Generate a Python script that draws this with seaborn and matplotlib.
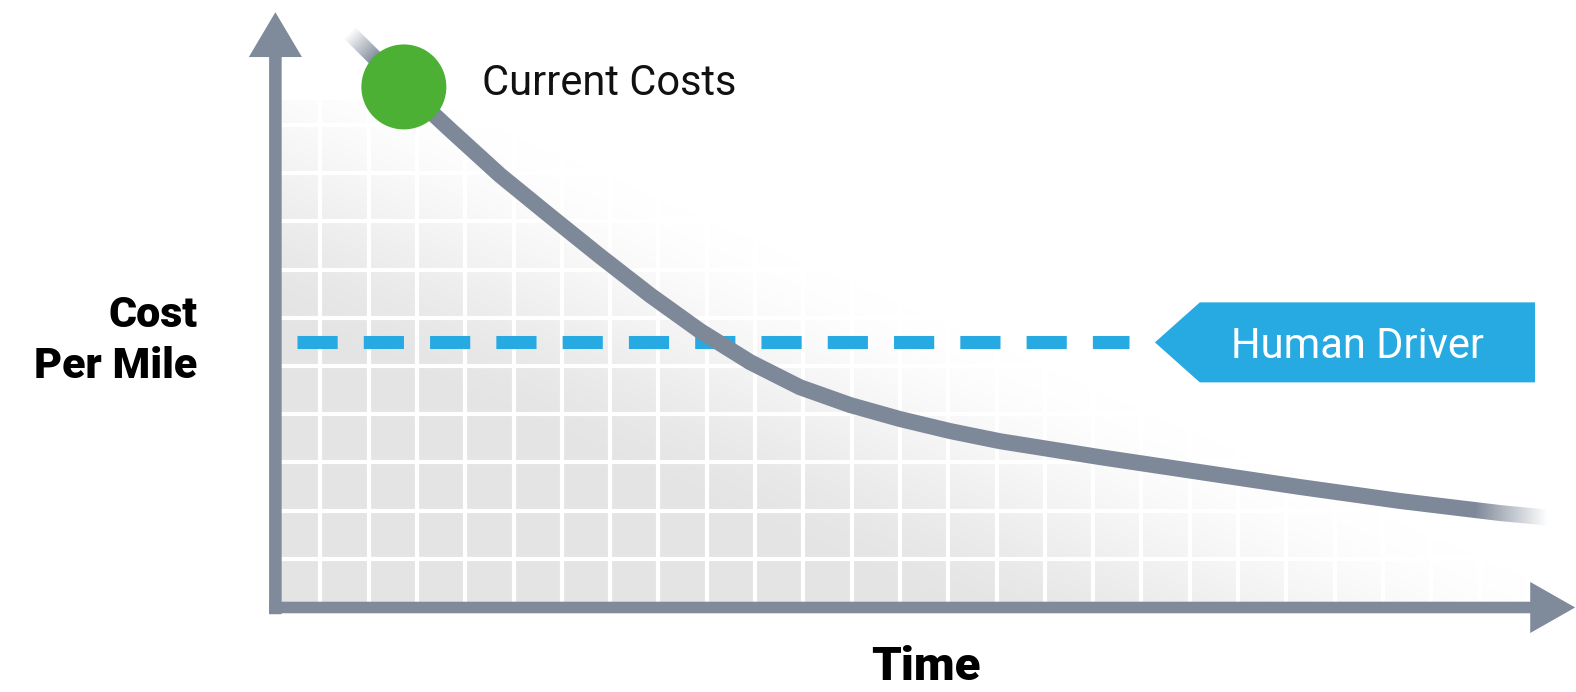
import numpy as np
import matplotlib
matplotlib.use("Agg")
import matplotlib.pyplot as plt
import seaborn as sns
from matplotlib.patches import Polygon

# ---------------- data (grid units) ----------------
time = [1.61, 2.65, 3.69, 4.72, 5.76, 6.79, 7.83, 8.86, 9.90, 10.93, 11.97,
        13.00, 14.04, 15.07, 17.14, 19.21, 21.28, 23.35, 25.42, 26.46]
cost = [11.91, 10.87, 9.90, 8.96, 8.11, 7.28, 6.47, 5.73, 5.08, 4.56, 4.19,
        3.90, 3.65, 3.44, 3.11, 2.80, 2.49, 2.20, 1.95, 1.85]

current_time = [2.73]
current_cost = [10.79]

human_cost = 5.49
human_start, human_end = 0.52, 17.74

labels = {"current": "Current Costs", "human": "Human Driver",
          "y1": "Cost", "y2": "Per Mile", "x": "Time"}

# ---------------- style ----------------
sns.set_theme(style="white")
plt.rcParams["font.family"] = ["Roboto", "DejaVu Sans"]

AXIS_C = "#7f8a9a"
CURVE_C = "#7d8898"
GREEN = "#4cb034"
BLUE = "#27a9e1"

fig = plt.figure(figsize=(15.76, 6.92), dpi=100)
ax = fig.add_axes([0, 0, 1, 1])
sx, sy = 48.3, 48.2
ax.set_xlim(-272 / sx, (1576 - 272) / sx)
ax.set_ylim(-(692 - 607) / sy, 607 / sy)
ax.axis("off")

# ---------------- fading grid background ----------------
gx0, gx1, gy0, gy1 = 0.08, 27.0, -0.02, 10.5
xx, yy = np.meshgrid(np.linspace(gx0, gx1, 600), np.linspace(gy0, gy1, 300))
s = xx / 25.8 + yy / 11.3
g = np.clip((1.08 - s) / 0.58, 0, 1)
g = g * g * (3 - 2 * g)
rgba = np.zeros(xx.shape + (4,))
rgba[..., :3] = 0.895
rgba[..., 3] = g
ax.imshow(rgba, extent=(gx0, gx1, gy0, gy1), origin="lower", aspect="auto",
          interpolation="bilinear", zorder=1)
for k in range(1, 27):
    ax.plot([k, k], [gy0, gy1], color="white", lw=3, zorder=2, solid_capstyle="butt")
for k in range(1, 11):
    ax.plot([gx0, gx1], [k, k], color="white", lw=3, zorder=2, solid_capstyle="butt")

# ---------------- human driver dashed level ----------------
ax.plot([human_start, human_end], [human_cost, human_cost], color=BLUE,
        lw=9.4, linestyle=(0, (40 / 13, 26 / 13)), dash_capstyle="butt", zorder=3)

# ---------------- cost curve ----------------
sns.lineplot(x=time, y=cost, color=CURVE_C, linewidth=11.5, ax=ax, zorder=4,
             solid_capstyle="butt", solid_joinstyle="round", sort=False)

# fade curve ends with white gradient overlays
fx0, fx1, fy0, fy1 = 1.0, 2.8, 10.6, 12.7
xx, yy = np.meshgrid(np.linspace(fx0, fx1, 120), np.linspace(fy0, fy1, 120))
t = ((xx - time[0]) - (yy - cost[0])) / np.sqrt(2)
a = np.clip(1 - t / 0.8, 0, 1)
ov = np.ones(xx.shape + (4,))
ov[..., 3] = a
ax.imshow(ov, extent=(fx0, fx1, fy0, fy1), origin="lower", aspect="auto",
          interpolation="bilinear", zorder=5)

rx0, rx1, ry0, ry1 = 24.5, 27.6, 1.25, 2.6
xx, yy = np.meshgrid(np.linspace(rx0, rx1, 200), np.linspace(ry0, ry1, 40))
a = np.clip((xx - 24.9) / (26.4 - 24.9), 0, 1)
ov = np.ones(xx.shape + (4,))
ov[..., 3] = a
ax.imshow(ov, extent=(rx0, rx1, ry0, ry1), origin="lower", aspect="auto",
          interpolation="bilinear", zorder=5)

# ---------------- current cost dot ----------------
sns.scatterplot(x=current_time, y=current_cost, s=3745, color=GREEN,
                edgecolor="none", ax=ax, zorder=6, legend=False)
ax.text(current_time[0] + 1.62, current_cost[0] - 0.17, labels["current"],
        fontsize=30, color="#111111", ha="left", va="baseline", zorder=7)

# ---------------- axes arrows ----------------
ax.arrow(0.07, -0.15, 0, 12.34 + 0.15, width=0.26, head_width=1.1, head_length=0.93,
         length_includes_head=True, color=AXIS_C, lw=0, zorder=8)
ax.arrow(-0.06, -0.01, 26.98 + 0.06, 0, width=0.24, head_width=1.06, head_length=0.93,
         length_includes_head=True, color=AXIS_C, lw=0, zorder=8)

# ---------------- human driver label box ----------------
tip_x, left_x, right_x, hh = 18.28, 19.21, 26.15, 0.83
poly = Polygon([[tip_x, human_cost], [left_x, human_cost + hh], [right_x, human_cost + hh],
                [right_x, human_cost - hh], [left_x, human_cost - hh]],
               closed=True, facecolor=BLUE, edgecolor="none", zorder=7)
ax.add_patch(poly)
ax.text((left_x + right_x) / 2 - 0.2, human_cost, labels["human"], fontsize=30,
        color="white", ha="center", va="center_baseline", zorder=8)

# ---------------- axis titles ----------------
ax.text(-1.55, 5.81, labels["y1"], fontsize=31, fontweight="black", color="black",
        ha="right", va="baseline")
ax.text(-1.55, 4.75, labels["y2"], fontsize=31, fontweight="black", color="black",
        ha="right", va="baseline")
ax.text(13.54, -1.51, labels["x"], fontsize=34, fontweight="black", color="black",
        ha="center", va="baseline")

fig.savefig("out.png", dpi=100, facecolor="white")
